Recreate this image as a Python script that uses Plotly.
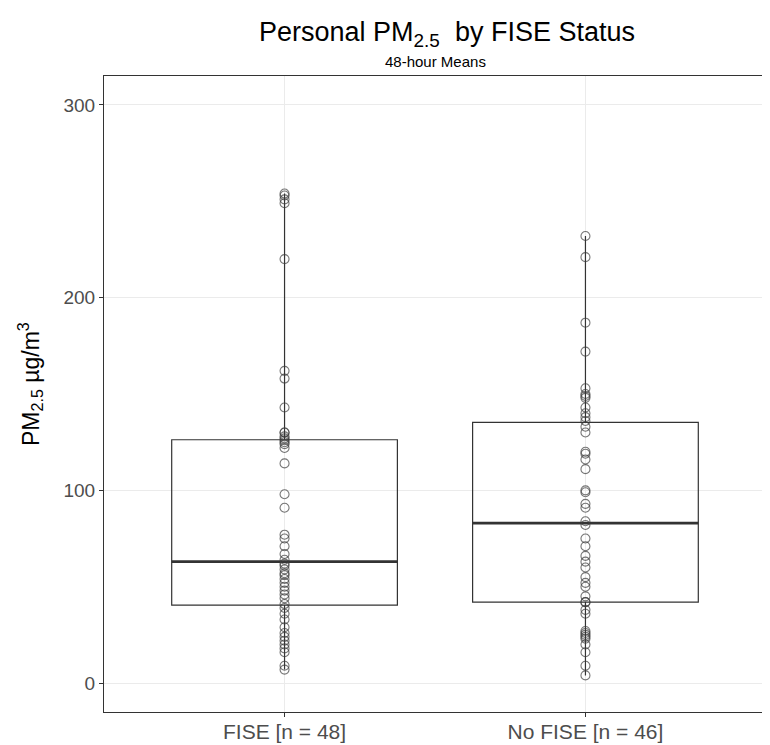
import numpy as np
import plotly.graph_objects as go

categories = ["FISE [n = 48]", "No FISE [n = 46]"]

fise_pm25 = [7, 9, 16, 18, 20, 22, 24, 26, 29, 33, 36, 39, 41, 44, 46, 48,
             50, 52, 54, 56, 57, 59, 61, 62, 64, 67, 71, 75, 77, 91, 98, 114,
             122, 124, 125, 126, 127, 128, 130, 130, 143, 158, 162, 220, 249,
             251, 253, 254]
nofise_pm25 = [4, 9, 16, 20, 23, 24, 25, 26, 27, 36, 38, 42, 42, 45, 50, 52,
               55, 60, 63, 66, 71, 75, 82, 84, 91, 93, 99, 100, 111, 116, 119,
               120, 130, 133, 136, 138, 140, 143, 148, 149, 150, 153, 172, 187,
               221, 232]

series = [fise_pm25, nofise_pm25]
y_ticks = [0, 100, 200, 300]

W, H = 762, 737
ML, MR, MT, MB = 96, 4, 68, 33
PW, PH = W - ML - MR, H - MT - MB

fig = go.Figure()

box_half = 0.375
for i, (cat, vals) in enumerate(zip(categories, series)):
    v = np.array(vals, dtype=float)
    xpos = i + 1
    q1, med, q3 = np.percentile(v, [25, 50, 75])
    iqr = q3 - q1
    lo = v[v >= q1 - 1.5 * iqr].min()
    hi = v[v <= q3 + 1.5 * iqr].max()
    fig.add_trace(go.Box(
        x=[xpos], q1=[q1], median=[med], q3=[q3],
        lowerfence=[lo], upperfence=[hi],
        width=2 * box_half, whiskerwidth=0,
        fillcolor="rgba(255,255,255,0)",
        line=dict(color="#333333", width=1.2),
        boxpoints=False, showlegend=False, hoverinfo="skip",
    ))
    # thicker median line (ggplot fatten)
    fig.add_trace(go.Scatter(
        x=[xpos - box_half, xpos + box_half], y=[med, med],
        mode="lines", line=dict(color="#333333", width=2.6),
        showlegend=False, hoverinfo="skip",
    ))
    fig.add_trace(go.Scatter(
        x=[xpos] * len(v), y=v, mode="markers",
        marker=dict(symbol="circle-open", size=9,
                    color="rgba(60,60,60,0.7)", line=dict(width=1.1)),
        showlegend=False, hoverinfo="skip",
    ))

fig.update_layout(
    width=W, height=H,
    margin=dict(l=ML, r=MR, t=MT, b=MB, autoexpand=False),
    paper_bgcolor="white", plot_bgcolor="white",
    font=dict(family="Liberation Sans, Arial, sans-serif", color="#000000"),
    title=dict(text="Personal PM<sub>2.5</sub>  by FISE Status",
               x=0.5 + 12 / PW, xref="paper", xanchor="center",
               y=1 - 24 / H, yanchor="middle",
               font=dict(size=27, color="#000000")),
    annotations=[
        dict(text="48-hour Means", xref="paper", yref="paper",
             x=0.5, y=1 + 14 / PH, xanchor="center", yanchor="middle",
             showarrow=False, font=dict(size=15, color="#000000")),
        dict(text="PM<sub>2.5</sub> µg/m<sup>3</sup>", xref="paper", yref="paper",
             x=(22 - ML) / PW, y=0.5 + 10 / PH, xanchor="center", yanchor="middle",
             textangle=-90, showarrow=False,
             font=dict(size=23, color="#000000")),
    ],
    xaxis=dict(
        range=[0.4, 2.6], tickmode="array", tickvals=[1, 2], ticktext=categories,
        showgrid=True, gridcolor="#ebebeb", gridwidth=1, zeroline=False,
        showline=True, linecolor="#333333", linewidth=1, mirror=True,
        ticks="outside", ticklen=4, tickcolor="#333333", automargin=False,
        ticklabelstandoff=-3,
        tickfont=dict(size=21, color="#4d4d4d"),
    ),
    yaxis=dict(
        range=[-15, 315], tickmode="array", tickvals=y_ticks,
        ticktext=[str(t) for t in y_ticks],
        showgrid=True, gridcolor="#ebebeb", gridwidth=1, zeroline=False,
        showline=True, linecolor="#333333", linewidth=1, mirror=True,
        ticks="outside", ticklen=4, tickcolor="#333333", automargin=False,
        tickfont=dict(size=19, color="#4d4d4d"),
    ),
)

fig.write_html("out.html")
